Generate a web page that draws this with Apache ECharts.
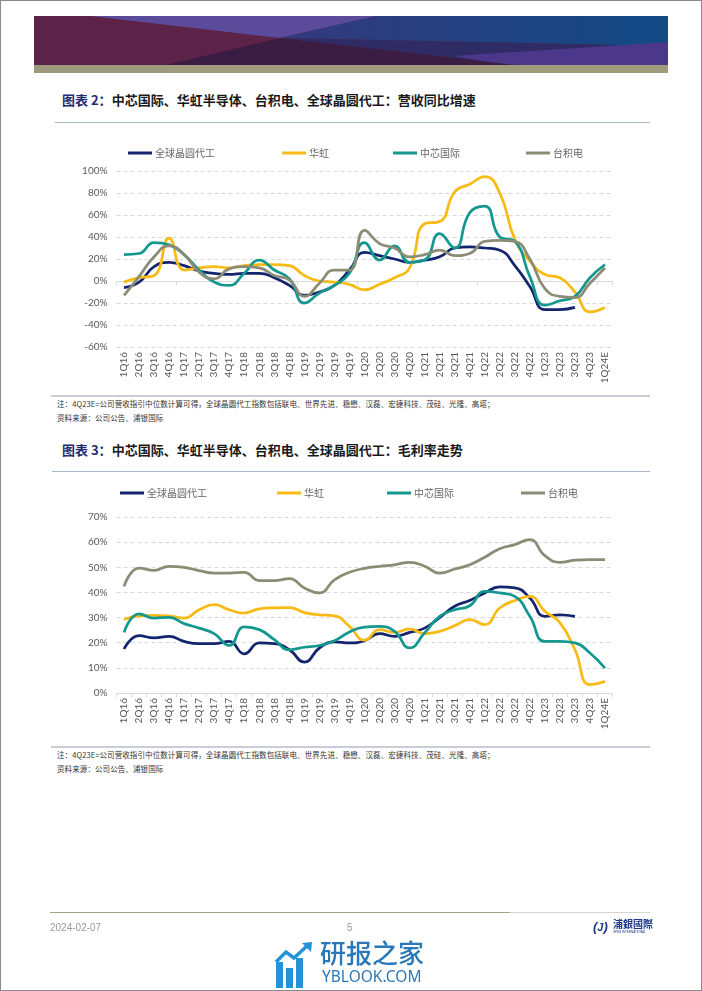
<!DOCTYPE html>
<html>
<head>
<meta charset="utf-8">
<script src="https://cdn.jsdelivr.net/npm/echarts@6/dist/echarts.min.js"></script>
<style>
  html,body{margin:0;padding:0;background:#fff;}
  #page{position:relative;width:702px;height:991px;background:#fff;overflow:hidden;font-family:"Noto Sans CJK SC","Noto Sans",sans-serif;}
  .abs{position:absolute;}
  .title{font-size:13px;font-weight:bold;color:#1a1a1a;line-height:16px;white-space:nowrap;}
  .title .lab{color:#1f2d72;}
  .rule{height:1px;background:#a9b7cc;}
  .noteline{height:2px;background:#c9cdd8;}
  .note{font-size:7.5px;line-height:10px;color:#333;white-space:nowrap;letter-spacing:0.1px;}
</style>
</head>
<body>
<div id="page">
  <svg class="abs" style="left:34px;top:16px" width="634" height="57" viewBox="0 0 634 57">
    <defs>
      <linearGradient id="gNavy" x1="0" x2="1" y1="0" y2="0">
        <stop offset="0" stop-color="#34397c"/>
        <stop offset="1" stop-color="#114a85"/>
      </linearGradient>
    </defs>
    <rect x="0" y="0" width="634" height="49" fill="#5c2247"/>
    <polygon points="56,0 342,0 246,22" fill="#5a4b9b"/>
    <polygon points="342,0 634,0 634,30 246,22" fill="url(#gNavy)"/>
    <polygon points="246,22 634,30 634,49 481,49" fill="#2f2b64"/>
    <polygon points="420,40 634,26 634,49 470,49" fill="#4b388a"/>
    <polygon points="132,49 246,22 481,49" fill="#3b1c42"/>
    <rect x="0" y="49" width="634" height="8" fill="#9d9b7b"/>
  </svg>

  <div class="abs title" style="left:62px;top:92px"><span class="lab">图表 2：</span>中芯国际、华虹半导体、台积电、全球晶圆代工：营收同比增速</div>
  <div class="abs rule" style="left:55px;top:122px;width:595px"></div>

  <div class="abs noteline" style="left:51px;top:395px;width:599px"></div>
  <div class="abs note" style="left:57px;top:399px">注：4Q23E=公司营收指引中位数计算可得，全球晶圆代工指数包括联电、世界先进、稳懋、汉磊、宏捷科技、茂硅、光隆、高塔；</div>
  <div class="abs note" style="left:57px;top:413px">资料来源：公司公告、浦银国际</div>

  <div class="abs title" style="left:62px;top:442px"><span class="lab">图表 3：</span>中芯国际、华虹半导体、台积电、全球晶圆代工：毛利率走势</div>
  <div class="abs rule" style="left:52px;top:471px;width:598px"></div>

  <div class="abs noteline" style="left:51px;top:746px;width:599px"></div>
  <div class="abs note" style="left:57px;top:750px">注：4Q23E=公司营收指引中位数计算可得，全球晶圆代工指数包括联电、世界先进、稳懋、汉磊、宏捷科技、茂硅、光隆、高塔；</div>
  <div class="abs note" style="left:57px;top:764px">资料来源：公司公告、浦银国际</div>

  <div id="chart" class="abs" style="left:0;top:0;width:702px;height:991px"></div>

  <div class="abs" style="left:50px;top:912px;width:460px;height:1px;background:#a3a286"></div>
  <div class="abs" style="left:510px;top:912px;width:140px;height:1px;background:#d6d6cc"></div>
  <div class="abs" style="left:50px;top:922px;font-family:'Liberation Sans',Arial,sans-serif;font-size:10px;color:#9a9a9a">2024-02-07</div>
  <div class="abs" style="left:347px;top:922px;font-family:'Liberation Sans',Arial,sans-serif;font-size:10px;color:#9a9a9a">5</div>
  <div class="abs" style="left:593px;top:920px;width:17px;height:14px;font-family:'Liberation Sans',sans-serif;font-weight:bold;font-style:italic;font-size:13px;line-height:14px;color:#1b3a8a">(<span style="font-size:11px">J</span>)</div>
  <div class="abs" style="left:613px;top:918px;font-size:10px;line-height:12px;font-weight:bold;color:#1b3a8a;font-family:'Noto Sans CJK TC',sans-serif">浦銀國際</div>
  <div class="abs" style="left:613px;top:930px;font-size:3px;line-height:4px;color:#1b3a8a;font-family:'Liberation Sans',sans-serif">SPDB INTERNATIONAL</div>

  <div class="abs" style="left:276px;top:962px;width:7px;height:26px;background:#2591d6"></div>
  <div class="abs" style="left:286px;top:968px;width:7px;height:20px;background:#2591d6"></div>
  <div class="abs" style="left:296px;top:958px;width:7px;height:30px;background:#2591d6"></div>
  <svg class="abs" style="left:274px;top:942px" width="40" height="24" viewBox="0 0 40 24">
    <polyline points="2,20 12,10 20,16 34,3" fill="none" stroke="#2591d6" stroke-width="3.5"/>
    <polygon points="28,1 38,0 37,10" fill="#2591d6"/>
  </svg>
  <div class="abs" style="left:320px;top:936px;font-size:26px;line-height:32px;font-weight:500;color:#2b78b8;letter-spacing:0px">研报之家</div>
  <div class="abs" style="left:322px;top:966px;font-size:15.5px;line-height:20px;color:#2b78b8;font-family:'Noto Sans',sans-serif">YBLOOK.COM</div>

  <div class="abs" style="left:0;top:0;width:700px;height:989px;border:1px solid #8a8a8a;pointer-events:none"></div>
</div>
<script>
// ---- data ----
const quarters = ['1Q16','2Q16','3Q16','4Q16','1Q17','2Q17','3Q17','4Q17','1Q18','2Q18','3Q18','4Q18','1Q19','2Q19','3Q19','4Q19','1Q20','2Q20','3Q20','4Q20','1Q21','2Q21','3Q21','4Q21','1Q22','2Q22','3Q22','4Q22','1Q23','2Q23','3Q23','4Q23','1Q24E'];
const seriesNames = ['全球晶圆代工','华虹','中芯国际','台积电'];

// 营收同比增速 (%)
const revGlobal = [-6,-1,13,17, 14,9,7,6, 7,7,3,-4, -13,-10,-4,10, 26,23,20,17, 19,22,30,31, 30,28,14,-5, -26,-26,-24,null, null];
const revHuahong = [-1,3,5,39, 10,12,13,12, 14,15,15,14, 5,0,-1,-3, -8,-3,3,12, 52,54,81,88, 95,80,38,18, 6,3,-10,-28, -24];
const revSMIC = [24,25,35,33, 24,10,-1,-4, 7,19,10,2, -20,-11,-4,7, 35,19,32,17, 19,43,30,62, 68,40,36,4, -22,-18,-14,3, 15];
const revTSMC = [-13,4,22,32, 24,8,2,11, 13,12,5,1, -14,-2,10,10, 46,34,30,22, 24,28,23,25, 36,37,36,20, -7,-14,-15,-2, 12];

// 毛利率 (%)
const gmGlobal = [17.5,22.8,21.9,22.5, 20.5,19.6,19.6,20.5, 15.6,19.9,19.6,17.2, 12.3,17.9,20.3,19.9, 20.8,23.6,22.5,24.1, 25.8,30,34.5,36.8, 39.8,42.2,41.8,37.8, 30.5,31.1,30.5,null, null];
const gmHuahong = [29.2,30.7,30.9,30.7, 29.8,33.1,35.1,33.1, 31.8,33.5,33.9,34, 32,31.1,30.7,26.5, 21,25.2,24.1,25.5, 23.6,24.5,26.8,29.2, 27.2,33.8,36.8,38.4, 32.5,28,17.2,3.3, 4.6];
const gmSMIC = [24.1,31.5,29.8,30.1, 27.6,25.8,23.6,18.9, 26.3,25.2,21.2,17.2, 18.2,18.9,20.8,24.3, 26.2,26.5,24.5,17.9, 23.9,30.5,33.1,34.7, 40.4,39.8,38.4,30.5, 20.5,20.5,19.9,15.9, 9.9];
const gmTSMC = [42.4,49.7,48.8,50.4, 50,48.7,47.7,47.7, 48,44.7,44.7,45.5, 41.8,39.8,45,48, 49.6,50.4,51,52, 50.4,47.7,49.3,51, 54,57.4,59,61, 54.6,52,52.8,53, 53];

const revTicks = {min:-60, max:100, interval:20};
const gmTicks = {min:0, max:70, interval:10};

// ---- styling ----
const colors = ['#14256e','#f8bb15','#14978f','#8c8b74'];
const labelColor = '#595959';
const gridLine = '#d9d9d9';

const revData = [revGlobal, revHuahong, revSMIC, revTSMC];
const gmData = [gmGlobal, gmHuahong, gmSMIC, gmTSMC];

const legendLeft1 = [128, 282, 393, 526];
const legendLeft2 = [120, 277, 387, 521];

function legends(lefts, top){
  return seriesNames.map((n,i)=>({
    data:[n], left:lefts[i], top:top, icon:'rect', itemWidth:24, itemHeight:3,
    padding:0, itemGap:0, selectedMode:false,
    textStyle:{fontFamily:'"Noto Sans CJK SC"', fontSize:10, color:'#666666', padding:[0,0,0,-2]}
  }));
}

const xLabel = {rotate:90, margin:5, fontFamily:'Lato', fontSize:10, color:labelColor};
const yLabel = {margin:9, fontFamily:'Lato', fontSize:10, color:labelColor, formatter:'{value}%'};

const series = [];
seriesNames.forEach((n,i)=>{
  series.push({name:n, type:'line', xAxisIndex:0, yAxisIndex:0, data:revData[i], smooth:0.5,
    symbol:'none', color:colors[i], lineStyle:{width:2.75, color:colors[i]}, connectNulls:false});
});
seriesNames.forEach((n,i)=>{
  series.push({name:n, type:'line', xAxisIndex:2, yAxisIndex:1, data:gmData[i], smooth:0.5,
    symbol:'none', color:colors[i], lineStyle:{width:2.75, color:colors[i]}, connectNulls:false});
});

const chart = echarts.init(document.getElementById('chart'), null, {renderer:'canvas'});
chart.setOption({
  animation:false,
  backgroundColor:'transparent',
  grid:[
    {left:116.5, top:171, width:496, height:176},
    {left:116.5, top:517, width:496, height:176}
  ],
  legend: legends(legendLeft1, 148).concat(legends(legendLeft2, 488)),
  xAxis:[
    {gridIndex:0, type:'category', data:quarters, position:'bottom', boundaryGap:true,
      axisLine:{show:false, onZero:false}, axisTick:{show:false}, axisLabel:xLabel, splitLine:{show:false}},
    {gridIndex:0, type:'category', data:quarters, position:'bottom', boundaryGap:true,
      axisLine:{show:true, onZero:true, lineStyle:{color:gridLine, width:1}},
      axisTick:{show:true, length:4, lineStyle:{color:gridLine}}, axisLabel:{show:false}, splitLine:{show:false}},
    {gridIndex:1, type:'category', data:quarters, position:'bottom', boundaryGap:true,
      axisLine:{show:true, onZero:false, lineStyle:{color:gridLine, width:1}},
      axisTick:{show:true, length:4, lineStyle:{color:gridLine}}, axisLabel:xLabel, splitLine:{show:false}}
  ],
  yAxis:[
    {gridIndex:0, type:'value', min:revTicks.min, max:revTicks.max, interval:revTicks.interval,
      axisLine:{show:false}, axisTick:{show:false}, axisLabel:yLabel,
      splitLine:{show:true, lineStyle:{color:gridLine, type:[4,3], width:1}}},
    {gridIndex:1, type:'value', min:gmTicks.min, max:gmTicks.max, interval:gmTicks.interval,
      axisLine:{show:false}, axisTick:{show:false}, axisLabel:yLabel,
      splitLine:{show:true, lineStyle:{color:gridLine, type:[4,3], width:1}}}
  ],
  series: series
});
</script>
</body>
</html>
